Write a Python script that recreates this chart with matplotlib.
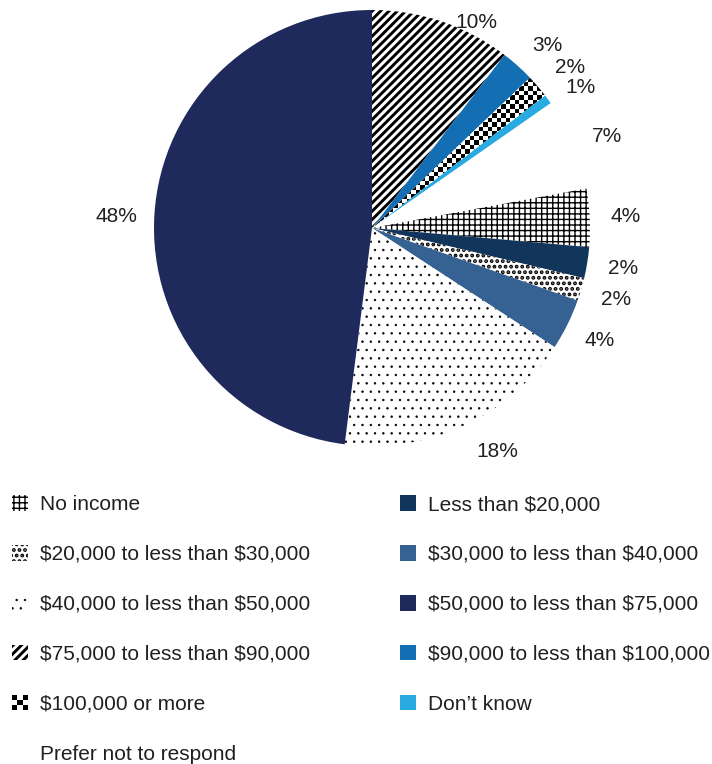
import numpy as np
import matplotlib
matplotlib.use("Agg")
import matplotlib.pyplot as plt
from matplotlib.patches import Patch, Rectangle
from matplotlib.legend_handler import HandlerBase

# --- Data (clockwise from 12 o'clock) ---
categories = [
    "$75,000 to less than $90,000",
    "$90,000 to less than $100,000",
    "$100,000 or more",
    "Don\u2019t know",
    "Prefer not to respond",
    "No income",
    "Less than $20,000",
    "$20,000 to less than $30,000",
    "$30,000 to less than $40,000",
    "$40,000 to less than $50,000",
    "$50,000 to less than $75,000",
]
shares = [10.4, 2.5, 1.7, 0.7, 6.8, 4.3, 2.3, 1.7, 3.8, 17.8, 48.0]
pct_labels = ["10%", "3%", "2%", "1%", "7%", "4%", "2%", "2%", "4%", "18%", "48%"]

# legend order (column by column)
legend_order = [
    "No income",
    "$20,000 to less than $30,000",
    "$40,000 to less than $50,000",
    "$75,000 to less than $90,000",
    "$100,000 or more",
    "Prefer not to respond",
    "Less than $20,000",
    "$30,000 to less than $40,000",
    "$50,000 to less than $75,000",
    "$90,000 to less than $100,000",
    "Don\u2019t know",
]

# --- Styles ---
TEXT = "#231f20"
styles = {
    "$75,000 to less than $90,000": dict(fc="white", hatch="////", hlw=2.1),
    "$90,000 to less than $100,000": dict(fc="#136eb4", hatch=None, hlw=1),
    "$100,000 or more": dict(fc="white", hatch="checker", hlw=1),
    "Don\u2019t know": dict(fc="#29aae1", hatch=None, hlw=1),
    "Prefer not to respond": dict(fc="white", hatch=None, hlw=1),
    "No income": dict(fc="white", hatch="+++", hlw=1.0),
    "Less than $20,000": dict(fc="#12355b", hatch=None, hlw=1),
    "$20,000 to less than $30,000": dict(fc="white", hatch="...", hlw=1.9),
    "$30,000 to less than $40,000": dict(fc="#356292", hatch=None, hlw=1),
    "$40,000 to less than $50,000": dict(fc="white", hatch="..", hlw=0.5),
    "$50,000 to less than $75,000": dict(fc="#1e295c", hatch=None, hlw=1),
}

plt.rcParams["font.family"] = ["Liberation Sans", "DejaVu Sans"]
plt.rcParams["text.parse_math"] = False
FS = 15


def hatch_lw(artist, lw):
    # per-artist hatch line width (works with or without set_hatch_linewidth)
    if hasattr(artist, "set_hatch_linewidth"):
        artist.set_hatch_linewidth(lw)
    orig = artist.draw

    def draw(renderer, _orig=orig, _lw=lw):
        with plt.rc_context({"hatch.linewidth": _lw}):
            _orig(renderer)
    artist.draw = draw


fig = plt.figure(figsize=(7.12, 7.64), dpi=100)
R_PX = 218
ax = fig.add_axes([(372 - R_PX) / 712, (764 - 228 - R_PX) / 764,
                   2 * R_PX / 712, 2 * R_PX / 764])

wedges, _ = ax.pie(shares, startangle=90, counterclock=False, radius=1,
                   colors=[styles[c]["fc"] for c in categories],
                   wedgeprops=dict(linewidth=0, edgecolor="black"))

for w, c in zip(wedges, categories):
    st = styles[c]
    if st["hatch"] and st["hatch"] != "checker":
        w.set_hatch(st["hatch"])
        hatch_lw(w, st["hlw"])
    w.set_linewidth(0)

# checkerboard fill for "$100,000 or more"
sq = 4.5 / R_PX
n = int(np.ceil(2 / sq))
board = np.add.outer(np.arange(n), np.arange(n)) % 2
chk = wedges[categories.index("$100,000 or more")]
im = ax.imshow(board, cmap="gray", interpolation="nearest", origin="lower",
               extent=(-1, -1 + n * sq, -1, -1 + n * sq), zorder=3)
im.set_clip_path(chk)

ax.set_xlim(-1, 1)
ax.set_ylim(-1, 1)
ax.set_aspect("equal")
ax.axis("off")

# percentage labels: radius 1.165 at wedge middle, a few nudged (pixels, +y down)
nudge = {0: (1, 2), 1: (6, 6), 2: (5, 4), 3: (4, 9), 4: (1, 6),
         9: (19, -7), 10: (-2, 4)}
for i, (w, lab) in enumerate(zip(wedges, pct_labels)):
    mid = np.deg2rad((w.theta1 + w.theta2) / 2)
    r = 1.165
    if i == 0:
        mid -= np.deg2rad(7.7)
        r = 1.065
    dx, dy = nudge.get(i, (0, 0))
    ax.annotate(lab, (r * np.cos(mid), r * np.sin(mid)), xytext=(dx, -dy),
                textcoords="offset pixels", ha="center", va="center",
                fontsize=FS, color=TEXT, annotation_clip=False)


class CheckerHandler(HandlerBase):
    def create_artists(self, legend, orig_handle, xdescent, ydescent,
                       width, height, fontsize, trans):
        k = 3
        cw, ch = width / k, height / k
        arts = []
        for i in range(k):
            for j in range(k):
                fc = "black" if (i + j) % 2 == 0 else "white"
                arts.append(Rectangle((-xdescent + i * cw, -ydescent + j * ch),
                                      cw, ch, facecolor=fc, linewidth=0,
                                      transform=trans))
        return arts


class HatchHandler(HandlerBase):
    def __init__(self, fc, hatch, lw):
        super().__init__()
        self.fc, self.hatch, self.lw = fc, hatch, lw

    def create_artists(self, legend, orig_handle, xdescent, ydescent,
                       width, height, fontsize, trans):
        r = Rectangle((-xdescent, -ydescent), width, height, facecolor=self.fc,
                      edgecolor="black", linewidth=0, hatch=self.hatch,
                      transform=trans)
        if self.hatch:
            hatch_lw(r, self.lw)
        return [r]


handles = []
handler_map = {}
for c in legend_order:
    st = styles[c]
    h = Patch(facecolor=st["fc"], linewidth=0)
    if st["hatch"] == "checker":
        handler_map[h] = CheckerHandler()
    else:
        handler_map[h] = HatchHandler(st["fc"], st["hatch"], st["hlw"])
    handles.append(h)

leg = fig.legend(handles, legend_order, handler_map=handler_map, ncols=2,
                 loc="upper left", bbox_to_anchor=(12 / 712, 1 - 495 / 764),
                 frameon=False, fontsize=FS, borderpad=0, borderaxespad=0,
                 handlelength=0.78, handleheight=0.78, handletextpad=0.58,
                 columnspacing=4.3, labelspacing=1.48, labelcolor=TEXT)

fig.savefig("out.png", dpi=100)
